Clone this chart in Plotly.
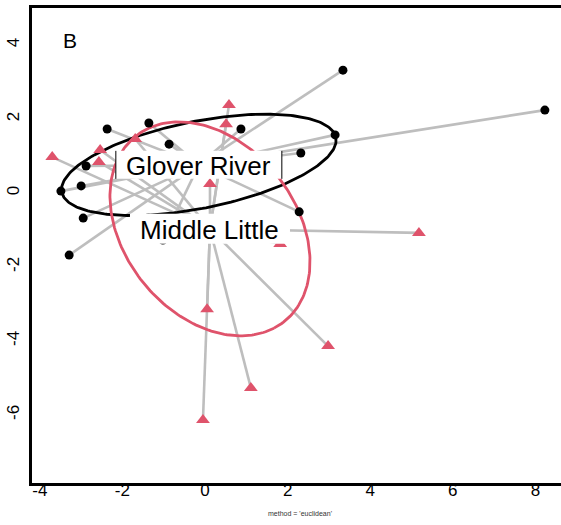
import numpy as np
import plotly.graph_objects as go

# ---- data ----
group_names = ["Glover River", "Middle Little"]

glover_x = [-2.37, -1.36, -0.87, 0.87, 3.34, 8.23, 3.15, 2.32, -2.88, -3.00, -3.49, -2.95, -3.29, 2.28, -1.02]
glover_y = [1.73, 1.89, 1.32, 1.73, 3.32, 2.24, 1.57, 1.08, 0.73, 0.19, 0.05, -0.68, -1.68, -0.51, -1.27]

middle_x = [-3.70, -2.54, -2.57, -1.69, 0.58, 0.51, 0.12, 1.82, 5.18, 0.05, 1.11, 2.98, -0.05]
middle_y = [0.97, 1.16, 0.84, 1.46, 2.38, 1.86, 0.24, -1.38, -1.08, -3.14, -5.27, -4.14, -6.14]

centroid_x = [-0.15, 0.12]
centroid_y = [0.76, -0.97]

ellipse_a = [3.40, 3.10]
ellipse_b = [1.17, 2.15]
ellipse_angle_deg = [12.9, -60.0]

x_ticks = [-4, -2, 0, 2, 4, 6, 8]
y_ticks = [-6, -4, -2, 0, 2, 4]

panel_letter = "B"
sub_text = "method = 'euclidean'"

# ---- styles ----
PINK = "#DF536B"
GREY = "#BEBEBE"
group_colors = ["black", PINK]
group_symbols = ["circle", "triangle-up"]
group_sizes = [9, 12]
FONT = "Liberation Sans, Arial, sans-serif"

fig = go.Figure()

pts = [(glover_x, glover_y), (middle_x, middle_y)]

# spider segments
for gi, (xs, ys) in enumerate(pts):
    sx, sy = [], []
    for x, y in zip(xs, ys):
        sx += [centroid_x[gi], x, None]
        sy += [centroid_y[gi], y, None]
    fig.add_trace(go.Scatter(x=sx, y=sy, mode="lines",
                             line=dict(color=GREY, width=2.6),
                             hoverinfo="skip", showlegend=False))

# ellipses
t = np.linspace(0, 2 * np.pi, 241)
for gi in range(2):
    th = np.deg2rad(ellipse_angle_deg[gi])
    u = ellipse_a[gi] * np.cos(t)
    v = ellipse_b[gi] * np.sin(t)
    ex = centroid_x[gi] + u * np.cos(th) - v * np.sin(th)
    ey = centroid_y[gi] + u * np.sin(th) + v * np.cos(th)
    fig.add_trace(go.Scatter(x=ex, y=ey, mode="lines",
                             line=dict(color=group_colors[gi], width=2.8),
                             hoverinfo="skip", showlegend=False))

# points
for gi, (xs, ys) in enumerate(pts):
    fig.add_trace(go.Scatter(x=xs, y=ys, mode="markers",
                             marker=dict(color=group_colors[gi], symbol=group_symbols[gi],
                                         size=group_sizes[gi], line=dict(width=0)),
                             name=group_names[gi], showlegend=False))

# label boxes (white) centred on centroids
half_w = [83, 80]
half_h = [14, 15]
shapes = []
for gi in range(2):
    shapes.append(dict(type="rect", layer="above",
                       xref="x", yref="y", xsizemode="pixel", ysizemode="pixel",
                       xanchor=centroid_x[gi], yanchor=centroid_y[gi],
                       x0=-half_w[gi], x1=half_w[gi], y0=-half_h[gi], y1=half_h[gi],
                       fillcolor="white", line=dict(width=0)))
# thin side borders of the first label box
for side in (-1, 1):
    shapes.append(dict(type="line", layer="above",
                       xref="x", yref="y", xsizemode="pixel", ysizemode="pixel",
                       xanchor=centroid_x[0], yanchor=centroid_y[0],
                       x0=side * half_w[0], x1=side * half_w[0],
                       y0=-half_h[0], y1=half_h[0],
                       line=dict(color="black", width=1)))

annotations = []
for gi in range(2):
    annotations.append(dict(x=centroid_x[gi], y=centroid_y[gi], xref="x", yref="y",
                            text=group_names[gi], showarrow=False,
                            font=dict(family=FONT, size=26, color="black"),
                            xanchor="center", yanchor="middle", yshift=-1))
annotations.append(dict(x=0.054, y=0.932, xref="paper", yref="paper", text=panel_letter,
                        showarrow=False, xanchor="left", yanchor="middle",
                        font=dict(family=FONT, size=21, color="black")))
annotations.append(dict(x=0.5, y=-0.065, xref="paper", yref="paper", text=sub_text,
                        showarrow=False, xanchor="center", yanchor="middle",
                        font=dict(family=FONT, size=7, color="#333333")))

fig.update_layout(
    width=568, height=525,
    margin=dict(l=32, r=0, t=8, b=42, autoexpand=False),
    plot_bgcolor="white", paper_bgcolor="white",
    shapes=shapes, annotations=annotations,
    font=dict(family=FONT, color="black"),
    xaxis=dict(range=[-4.19, 8.79], tickvals=x_ticks, ticktext=[str(v) for v in x_ticks],
               showgrid=False, zeroline=False, showline=True, linecolor="black", linewidth=2.5,
               mirror=True, ticks="", automargin=False, ticklabelstandoff=-10,
               tickfont=dict(size=17, family=FONT, color="black")),
    yaxis=dict(range=[-7.84, 5.0], tickvals=y_ticks, ticktext=[str(v) for v in y_ticks],
               showgrid=False, zeroline=False, showline=True, linecolor="black", linewidth=2.5,
               mirror=False, ticks="", tickangle=-90, automargin=False, ticklabelstandoff=3,
               tickfont=dict(size=17, family=FONT, color="black")),
)

fig.write_html("out.html", config={"displayModeBar": False},
               post_script=("document.documentElement.style.overflow='hidden';"
                            "document.body.style.margin='0px';"
                            "document.body.style.overflow='hidden';"))
